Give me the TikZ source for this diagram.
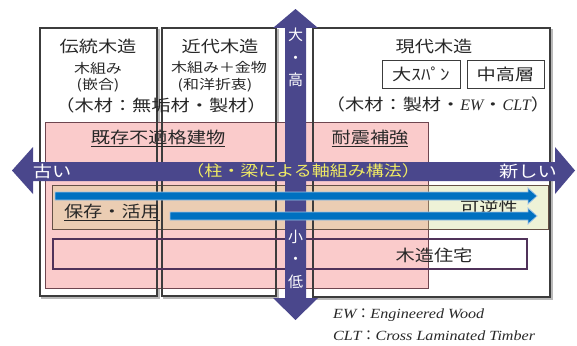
\documentclass[tikz,border=0pt]{standalone}
\usepackage{fontspec}
\setmainfont{Liberation Serif}
\newfontfamily\jp[FakeStretch=1.2]{Noto Sans CJK JP}
\newfontfamily\jpv{Noto Sans CJK JP}
\newfontfamily\fnfont[FakeStretch=1.15]{Liberation Serif}
\definecolor{arrowblue}{RGB}{74,71,140}
\definecolor{pinkfill}{RGB}{250,203,203}
\definecolor{pinkdraw}{RGB}{110,70,80}
\definecolor{bandfill}{RGB}{202,212,125}
\definecolor{banddraw}{RGB}{100,80,70}
\definecolor{lowdraw}{RGB}{80,50,90}
\definecolor{boxdraw}{RGB}{60,60,60}
\definecolor{flow}{RGB}{0,112,192}
\definecolor{flowedge}{RGB}{160,195,230}
\definecolor{axistext}{RGB}{240,235,100}
\definecolor{txt}{RGB}{40,40,40}
\begin{document}
\begin{tikzpicture}[x=1pt,y=-1pt,
  era/.style={draw=boxdraw, line width=1.2pt},
  erashadow/.style={draw=gray!55, line width=1.8pt},
  tl/.style={font=\jp\fontsize{16}{17}\selectfont, text=txt, inner sep=0pt},
  ts/.style={font=\jp\fontsize{13.3}{14}\selectfont, text=txt, inner sep=0pt},
  tag/.style={tl, draw=boxdraw, line width=1pt, fill=white},
  tv/.style={font=\jpv\fontsize{15}{22.5}\selectfont, text=white, inner sep=0pt, align=center},
  fn/.style={font=\fnfont\itshape\fontsize{14}{15}\selectfont, text=txt, inner sep=0pt, anchor=west},
  bigarrow/.style={fill=arrowblue},
  flowarrow/.style={fill=flow, draw=flowedge, line width=0.8pt}]
\useasboundingbox (0,0) rectangle (577,345);

% era boxes: shadows and white fills
\draw[erashadow] (42,30) rectangle (159,298);
\draw[erashadow] (164,30) rectangle (278,298);
\draw[erashadow] (315,30) rectangle (552,299);
\fill[white] (40,28) rectangle (157,296);
\fill[white] (162,28) rectangle (276,296);
\fill[white] (313,28) rectangle (550,297);

% pink region
\draw[fill=pinkfill, draw=pinkdraw, line width=1pt] (45,122) rectangle (428,288);
% band
\fill[bandfill, fill opacity=0.3] (52,185) rectangle (548,229);
\draw[banddraw, line width=1pt] (52,185) rectangle (548,229);

% era box outlines on top
\draw[era] (40,28) rectangle (157,296);
\draw[era] (162,28) rectangle (276,296);
\draw[era] (313,28) rectangle (550,297);

% lower box
\draw[lowdraw, line width=1.2pt] (53,239) rectangle (527,269);

% texts in boxes
\node[tl] (dento) at (98,46) {伝統木造};
\node[ts] (kigumi1) at (98,68) {木組み};
\node[ts] (kango) at (98,85) {(嵌合)};
\node[tl] (zai1) at (161,105) {（木材：無垢材・製材）};
\node[tl] (kindai) at (220,46) {近代木造};
\node[ts] (kigumi2) at (219,67) {木組み＋金物};
\node[ts] (wayo) at (215,85) {(和洋折衷)};
\node[tl] (gendai) at (434,46) {現代木造};
\node[tag, minimum width=78, minimum height=28] (span) at (421,74) {大ｽﾊﾟﾝ};
\node[tag, minimum width=77, minimum height=28] (chuko) at (505.5,74) {中高層};
\node[tl] (zai2) at (438,104) {（木材：製材・{\rmfamily\itshape EW}・{\rmfamily\itshape CLT}）};
\node[tl] (kison) at (158,138) {\underline{既存不適格建物}};
\node[tl] (taishin) at (370,138) {\underline{耐震補強}};
\node[tl] (hozon) at (112,212) {\underline{保存・活用}};
\node[tl] (kagyaku) at (489,207) {可逆性};
\node[tl] (jutaku) at (434,255) {木造住宅};

% big cross arrows
\fill[bigarrow] (12,170.5) -- (33,147) -- (33,162) -- (555,162) -- (555,147) -- (575,170.5)
  -- (555,194) -- (555,181) -- (33,181) -- (33,194) -- cycle;
\fill[bigarrow] (295.5,9) -- (318,28) -- (306,28) -- (306,298) -- (318,298) -- (295.5,320)
  -- (273,298) -- (285,298) -- (285,28) -- (273,28) -- cycle;

% flow arrows
\filldraw[flowarrow] (55,192) -- (528,192) -- (528,188) -- (537,196) -- (528,204) -- (528,200) -- (55,200) -- cycle;
\filldraw[flowarrow] (170,212) -- (528,212) -- (528,208) -- (537,216) -- (528,224) -- (528,220) -- (170,220) -- cycle;

% axis labels
\node[tl, text=white] (furui) at (52,171) {古い};
\node[tl, text=axistext, font=\jp\fontsize{15}{16}\selectfont] (kozo) at (303,171) {（柱・梁による軸組み構法）};
\node[tl, text=white] (atarashii) at (528,171) {新しい};
\node[tv] (daiko) at (295.5,57.5) {大\\・\\高};
\node[tv] (shotei) at (295.5,259) {小\\・\\低};

% footnotes
\node[fn] (fn1) at (333,315) {EW{\jpv\upshape：}Engineered Wood};
\node[fn] (fn2) at (333,336) {CLT{\jpv\upshape：}Cross Laminated Timber};
\end{tikzpicture}
\end{document}
